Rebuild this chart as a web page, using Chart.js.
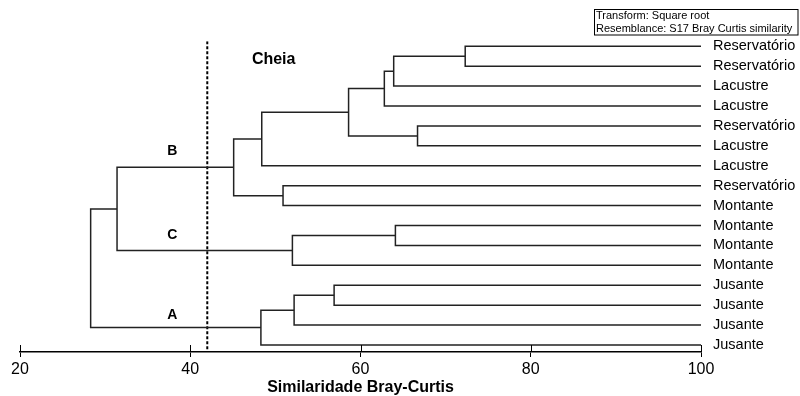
<!DOCTYPE html>
<html>
<head>
<meta charset="utf-8">
<script src="https://cdn.jsdelivr.net/npm/chart.js@4.4.1/dist/chart.umd.min.js"></script>
<style>
  html, body { margin: 0; padding: 0; background: #fff; }
  #wrap { width: 800px; height: 396px; }
</style>
</head>
<body>
<div id="wrap"><canvas id="chart"></canvas></div>
<script>
// Leaves, top to bottom
const leafNames = [
  "Reservatório", "Reservatório", "Lacustre", "Lacustre",
  "Reservatório", "Lacustre", "Lacustre", "Reservatório",
  "Montante", "Montante", "Montante", "Montante",
  "Jusante", "Jusante", "Jusante", "Jusante"
];

// Merges: nodes 0..15 are leaves, new node ids start at 16
const mergeLeft  = [0, 16, 17, 4, 18, 20, 7, 21, 9, 24, 23, 12, 27, 28, 26];
const mergeRight = [1, 2, 3, 5, 19, 6, 8, 22, 10, 11, 25, 13, 14, 15, 29];
const mergeSim   = [72.3, 63.9, 62.8, 66.7, 58.6, 48.4, 50.9, 45.1, 64.1, 52.0, 31.4, 56.9, 52.2, 48.3, 28.3];

const xTicks = [20, 40, 60, 80, 100];
const cutLevel = 42;

const groupLabels = ["B", "C", "A"];
const groupPos = [[37.9, 5.29], [37.9, 9.47], [37.9, 13.52]];

const FONT = "'Liberation Sans', Arial, sans-serif";
const Y_MIN = -0.25, Y_MAX = 15.35;

// node position: leaves sit at similarity 100
const nodeX = leafNames.map(() => 100);
const nodeY = leafNames.map((_, i) => i);
const datasets = [];
mergeSim.forEach((sim, k) => {
  const a = mergeLeft[k], b = mergeRight[k];
  datasets.push({
    data: [
      { x: nodeX[a], y: nodeY[a] },
      { x: sim, y: nodeY[a] },
      { x: sim, y: nodeY[b] },
      { x: nodeX[b], y: nodeY[b] }
    ],
    showLine: true,
    borderColor: "#222",
    borderWidth: 1.5,
    pointRadius: 0,
    tension: 0
  });
  nodeX.push(sim);
  nodeY.push((nodeY[a] + nodeY[b]) / 2);
});

// cut line
datasets.push({
  data: [{ x: cutLevel, y: Y_MIN }, { x: cutLevel, y: Y_MAX }],
  showLine: true,
  borderColor: "#000",
  borderWidth: 2,
  borderDash: [3, 2],
  pointRadius: 0
});

// texts on the plot, tick marks crossing the axis, and the info box
const extras = {
  id: "extras",
  afterDraw(chart) {
    const ctx = chart.ctx;
    const xs = chart.scales.x, ys = chart.scales.y;
    ctx.save();
    ctx.fillStyle = "#000";
    ctx.textAlign = "center";
    ctx.textBaseline = "middle";
    ctx.font = "bold 16px " + FONT;
    ctx.fillText("Cheia", xs.getPixelForValue(49.8), ys.getPixelForValue(0.69));
    ctx.font = "bold 14px " + FONT;
    groupLabels.forEach((g, i) => {
      ctx.fillText(g, xs.getPixelForValue(groupPos[i][0]), ys.getPixelForValue(groupPos[i][1]));
    });

    // upper half of the axis ticks
    ctx.strokeStyle = "#000";
    ctx.lineWidth = 1;
    const bottom = chart.chartArea.bottom;
    xTicks.forEach(t => {
      const px = Math.round(xs.getPixelForValue(t)) + 0.5;
      ctx.beginPath();
      ctx.moveTo(px, bottom - 7);
      ctx.lineTo(px, bottom);
      ctx.stroke();
    });

    // info box
    ctx.fillStyle = "#fff";
    ctx.fillRect(594, 9, 204, 26);
    ctx.strokeRect(594.5, 9.5, 203.5, 25.5);
    ctx.fillStyle = "#000";
    ctx.textAlign = "left";
    ctx.font = "11px " + FONT;
    ctx.fillText("Transform: Square root", 596, 16);
    ctx.fillText("Resemblance: S17 Bray Curtis similarity", 596, 29);
    ctx.restore();
  }
};

new Chart(document.getElementById("chart"), {
  type: "scatter",
  data: { datasets },
  plugins: [extras],
  options: {
    responsive: true,
    maintainAspectRatio: false,
    animation: false,
    events: [],
    layout: { padding: { top: 41.3, left: 0, right: 0, bottom: 0 } },
    plugins: { legend: { display: false }, tooltip: { enabled: false } },
    scales: {
      x: {
        type: "linear",
        min: 20,
        max: 100,
        afterBuildTicks: s => { s.ticks = xTicks.map(v => ({ value: v })); },
        afterFit: s => { s.height = 44; },
        grid: { display: true, drawOnChartArea: false, tickLength: 5, color: "#000", lineWidth: 1 },
        border: { display: true, color: "#000", width: 1.5 },
        ticks: { color: "#000", padding: 3, font: { family: FONT, size: 16 } },
        title: {
          display: true,
          text: "Similaridade Bray-Curtis",
          color: "#000",
          padding: 0,
          font: { family: FONT, size: 16, weight: "bold", lineHeight: 1 }
        }
      },
      y: {
        type: "linear",
        reverse: true,
        min: Y_MIN,
        max: Y_MAX,
        afterFit: s => { s.width = 20; },
        grid: { display: false },
        border: { display: false },
        ticks: { display: false }
      },
      y2: {
        type: "linear",
        position: "right",
        reverse: true,
        min: Y_MIN,
        max: Y_MAX,
        afterBuildTicks: s => { s.ticks = leafNames.map((_, i) => ({ value: i })); },
        afterFit: s => { s.width = 99; },
        grid: { display: false, drawTicks: false },
        border: { display: false },
        ticks: {
          autoSkip: false,
          padding: 12,
          color: "#000",
          font: { family: FONT, size: 14.5 },
          callback: v => leafNames[v]
        }
      }
    }
  }
});
</script>
</body>
</html>
